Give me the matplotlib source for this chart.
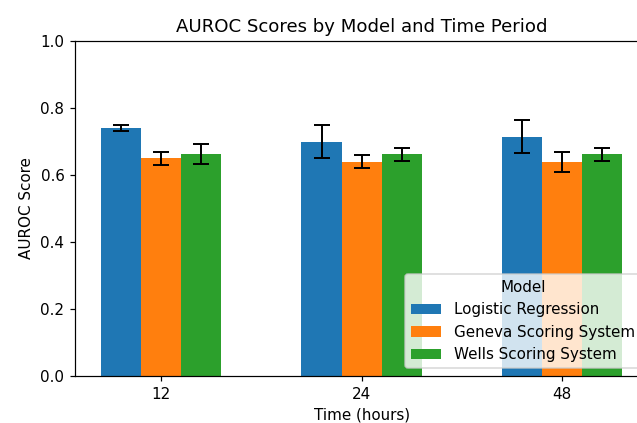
import matplotlib
matplotlib.use("Agg")
import matplotlib.pyplot as plt
import numpy as np

time_labels = ["12", "24", "48"]
models = ["Logistic Regression", "Geneva Scoring System", "Wells Scoring System"]
lr_scores = [0.74, 0.70, 0.715]
lr_err = [0.009, 0.05, 0.05]
geneva_scores = [0.65, 0.64, 0.64]
geneva_err = [0.02, 0.02, 0.03]
wells_scores = [0.663, 0.662, 0.662]
wells_err = [0.03, 0.02, 0.02]

scores = [lr_scores, geneva_scores, wells_scores]
errs = [lr_err, geneva_err, wells_err]
colors = ["#1f77b4", "#ff7f0e", "#2ca02c"]

DPI = 109
fig = plt.figure(figsize=(637 / DPI, 423 / DPI), dpi=DPI)
ax = fig.add_axes([0.1177, 0.111, 0.9, 0.792])

x = np.arange(len(time_labels))
width = 0.2
for i, (s, e, c, m) in enumerate(zip(scores, errs, colors, models)):
    ax.bar(x + (i - 1) * width, s, width, yerr=e, capsize=5, color=c, label=m,
           error_kw=dict(ecolor="black", elinewidth=1.3, capthick=1.3))

ax.set_xticks(x)
ax.set_xticklabels(time_labels)
ax.set_ylim(0, 1.0)
ax.set_xlabel("Time (hours)")
ax.set_ylabel("AUROC Score")
ax.set_title("AUROC Scores by Model and Time Period")
ax.legend(title="Model", loc="lower right")

fig.savefig("out.png", dpi=DPI)
